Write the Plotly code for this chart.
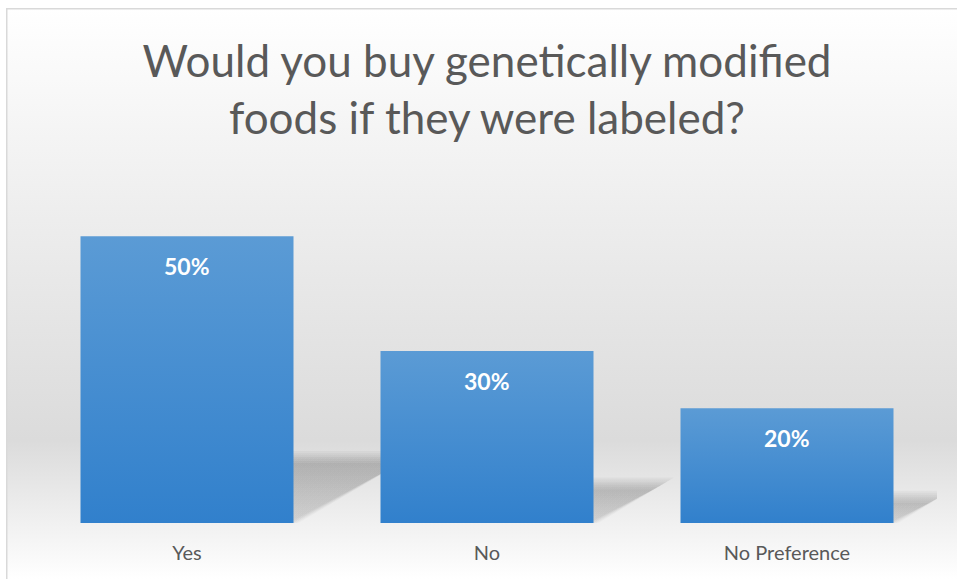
import base64
import plotly.graph_objects as go

categories = ["Yes", "No", "No Preference"]
values = [50, 30, 20]
labels = ["50%", "30%", "20%"]
title_text = "Would you buy genetically modified<br>foods if they were labeled?"

W, H = 957, 579
ML, MR, MT, MB = 37, 20, 179, 56
PW, PH = W - ML - MR, H - MT - MB
YMAX = 60
BAR_W = 0.71
BAR_TOP = "#5B9BD5"
BAR_BOTTOM = "#3180CC"
TEXT_GRAY = "#595959"

fig = go.Figure()

# soft perspective shadows (derived from bar values), blurred by layering
px_per_unit = PH / YMAX
x_per_px = 3 / PW
offsets = [-10, -6.5, -3, 0, 3, 6.5, 10]
a = 0.036
for i, v in enumerate(values):
    h_px = v * px_per_unit
    dx_px = 0.41 * h_px
    dy_px = 0.23 * h_px
    x0 = i - BAR_W / 2
    x1 = i + BAR_W / 2
    for off in offsets:
        dx = (dx_px + off) * x_per_px
        dy = (dy_px + off * 0.6) / px_per_unit
        fig.add_trace(go.Scatter(
            x=[x0, x1 + off * 0.5 * x_per_px, x1 + dx, x0 + dx, x0],
            y=[0, 0, dy, dy, 0],
            mode="lines", line=dict(width=0), fill="toself",
            fillgradient=dict(type="vertical",
                              colorscale=[[0, f"rgba(0,0,0,{a*0.55})"], [1, f"rgba(0,0,0,{a})"]]),
            hoverinfo="skip", showlegend=False))

# bars with vertical gradient
for i, v in enumerate(values):
    x0 = i - BAR_W / 2
    x1 = i + BAR_W / 2
    fig.add_trace(go.Scatter(
        x=[x0, x0, x1, x1, x0],
        y=[0, v, v, 0, 0],
        mode="lines", line=dict(width=0), fill="toself",
        fillgradient=dict(type="vertical", colorscale=[[0, BAR_BOTTOM], [1, BAR_TOP]]),
        name=categories[i], hoverinfo="skip", showlegend=False))

for i, v in enumerate(values):
    fig.add_annotation(x=i, y=v, text=f"<b>{labels[i]}</b>", showarrow=False,
                       yanchor="middle", yshift=-30,
                       font=dict(family="Lato, Open Sans, sans-serif", size=23, color="white"))

svg = (f"<svg xmlns='http://www.w3.org/2000/svg' width='{W}' height='{H}' viewBox='0 0 {W} {H}' preserveAspectRatio='none'>"
       "<defs><linearGradient id='g' x1='0' y1='0' x2='0' y2='1'>"
       "<stop offset='0' stop-color='#ffffff'/><stop offset='0.35' stop-color='#eeeeee'/>"
       "<stop offset='0.757' stop-color='#dbdbdb'/><stop offset='1' stop-color='#ffffff'/>"
       "</linearGradient></defs>"
       f"<rect x='0' y='0' width='{W}' height='{H}' fill='#ffffff'/>"
       f"<rect x='6' y='8' width='{W-6}' height='{H-8}' fill='url(#g)'/>"
       f"<path d='M6.75 {H} V8.75 H{W}' stroke='#d9d9d9' stroke-width='1.5' fill='none'/>"
       "</svg>")
src = "data:image/svg+xml;base64," + base64.b64encode(svg.encode()).decode()
fig.add_layout_image(source=src, xref="paper", yref="paper",
                     x=-ML / PW, y=1 + MT / PH, sizex=W / PW, sizey=H / PH,
                     xanchor="left", yanchor="top", sizing="stretch", layer="below")

fig.update_layout(
    width=W, height=H,
    margin=dict(l=ML, r=MR, t=MT, b=MB),
    paper_bgcolor="white", plot_bgcolor="rgba(0,0,0,0)",
    title=dict(text=title_text, x=487 / W, xanchor="center", y=1 - 77 / H, yanchor="middle",
               yref="container",
               font=dict(family="Lato, Open Sans, sans-serif", size=44, color=TEXT_GRAY, weight=400)),
    xaxis=dict(range=[-0.5, 2.5], tickvals=list(range(len(categories))), ticktext=categories,
               showgrid=False, zeroline=False, showline=False, ticks="", ticklabelstandoff=16,
               tickfont=dict(family="Lato, Open Sans, sans-serif", size=20, color=TEXT_GRAY),
               fixedrange=True),
    yaxis=dict(range=[0, YMAX], showgrid=False, zeroline=False, showline=False,
               showticklabels=False, ticks="", fixedrange=True),
    showlegend=False,
)

fig.write_html("out.html")
